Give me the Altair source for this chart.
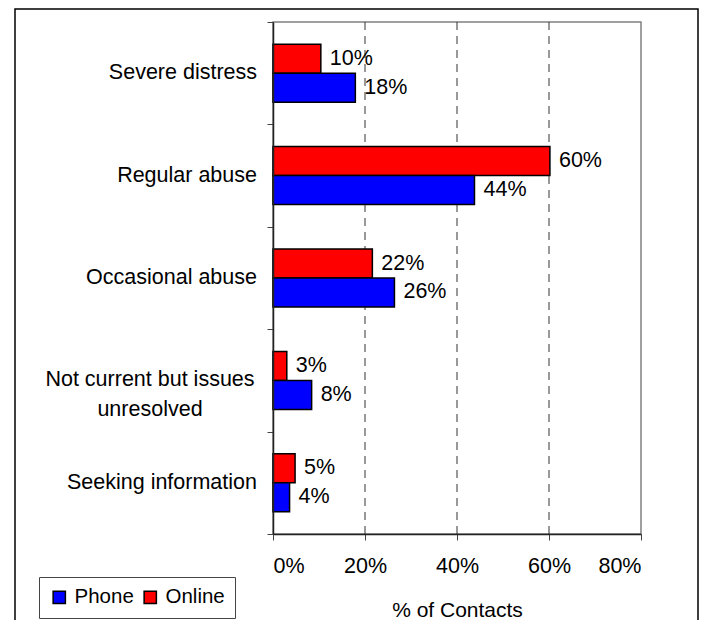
import altair as alt
import pandas as pd

categories = ["Severe distress", "Regular abuse", "Occasional abuse",
              "Not current but issues|unresolved", "Seeking information"]
online = [0.104, 0.602, 0.216, 0.030, 0.048]
phone = [0.179, 0.438, 0.264, 0.084, 0.036]
x_ticks = [0, 0.2, 0.4, 0.6, 0.8]
grid_vals = [0.2, 0.4, 0.6]

rows = []
for c, o, p in zip(categories, online, phone):
    rows.append({"cat": c, "series": "Online", "value": o})
    rows.append({"cat": c, "series": "Phone", "value": p})
df = pd.DataFrame(rows)
cat_df = pd.DataFrame({"cat": categories,
                       "multi": ["|" in c for c in categories]})

FONT = "Liberation Sans"
FS = 21.5

y_scale = alt.Scale(paddingInner=0, paddingOuter=0)
y_enc = alt.Y("cat:N", sort=categories, scale=y_scale,
              axis=alt.Axis(title=None, labels=False, tickBand="extent", tickSize=6,
                            domainColor="#222", domainWidth=1.5, tickColor="#444",
                            zindex=1))
yoff = alt.YOffset("series:N", sort=["Online", "Phone"],
                   scale=alt.Scale(paddingInner=0, paddingOuter=0.766))
x_enc = alt.X("value:Q", scale=alt.Scale(domain=[0, 0.8]),
              axis=alt.Axis(title="% of Contacts", format=".0%", values=x_ticks,
                            grid=False, tickSize=6, labelPadding=15, labelFontSize=FS,
                            titleFontSize=21, titleFontWeight="normal", titlePadding=23,
                            labelColor="black", titleColor="black",
                            domainColor="#222", domainWidth=1.5, tickColor="#444",
                            zindex=1))

border = alt.Chart(pd.DataFrame({"a": [0]})).mark_rect(
    fill=None, stroke="black", strokeWidth=1.5, fillOpacity=0
).encode(x=alt.value(-258), x2=alt.value(425), y=alt.value(-13), y2=alt.value(700))

grid = alt.Chart(pd.DataFrame({"value": grid_vals})).mark_rule(
    color="#333", strokeDash=[8, 6], strokeWidth=1
).encode(x=alt.X("value:Q", scale=alt.Scale(domain=[0, 0.8])))

bars = alt.Chart(df).mark_bar(stroke="black", strokeWidth=1.5).encode(
    x=x_enc, y=y_enc, yOffset=yoff,
    color=alt.Color("series:N",
                    scale=alt.Scale(domain=["Phone", "Online"], range=["#0000FF", "#FF0000"]),
                    legend=alt.Legend(title=None, orient="none", legendX=-234, legendY=555,
                                      direction="horizontal", strokeColor="#444",
                                      padding=10, labelFontSize=20.5, labelColor="black",
                                      symbolType="square", symbolSize=150,
                                      symbolStrokeColor="black", symbolStrokeWidth=1.5,
                                      columnPadding=6, labelOffset=5))
)

labels = alt.Chart(df).mark_text(align="left", baseline="middle", dx=9,
                                 fontSize=FS, color="black").encode(
    x="value:Q", y=alt.Y("cat:N", sort=categories), yOffset=yoff,
    text=alt.Text("value:Q", format=".0%")
)

cat_single = alt.Chart(cat_df).transform_filter("!datum.multi").mark_text(
    align="right", baseline="middle", fontSize=FS, color="black"
).encode(y=alt.Y("cat:N", sort=categories), x=alt.value(-16), text="cat:N")

cat_multi = alt.Chart(cat_df).transform_filter("datum.multi").mark_text(
    align="center", baseline="middle", fontSize=FS, color="black",
    lineBreak="|", lineHeight=30
).encode(y=alt.Y("cat:N", sort=categories), x=alt.value(-123), text="cat:N")

chart = alt.layer(border, grid, bars, labels, cat_single, cat_multi).properties(
    width=368, height=512,
    autosize=alt.AutoSizeParams(type="none"),
    padding={"left": 265, "top": 14, "right": 58, "bottom": 86},
).configure(font=FONT).configure_view(stroke="#808080", strokeWidth=1.5)

chart.save("out.html", embed_options={"renderer": "svg", "actions": False})
